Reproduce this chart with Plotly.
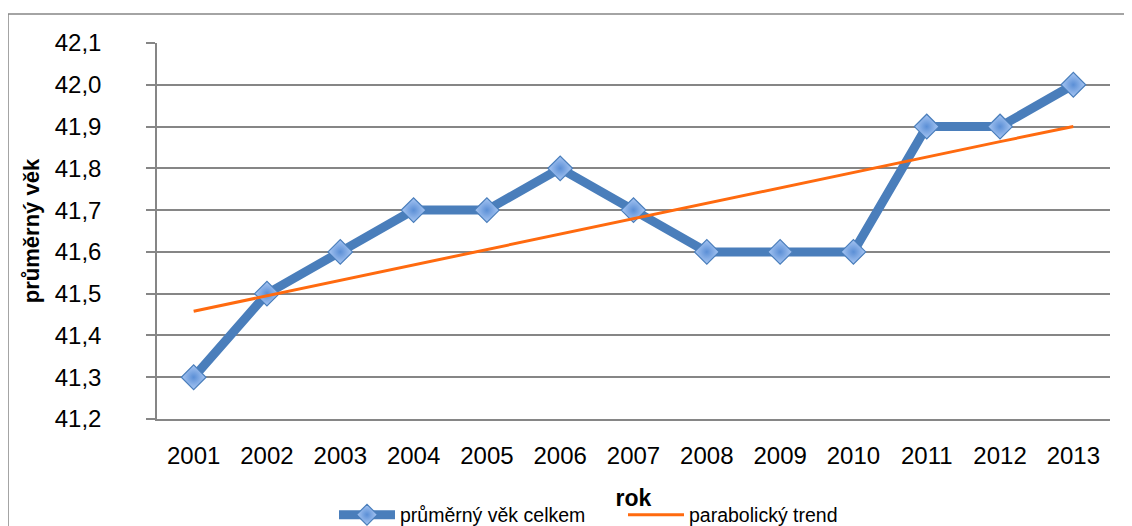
import plotly.graph_objects as go

years = ["2001", "2002", "2003", "2004", "2005", "2006", "2007",
         "2008", "2009", "2010", "2011", "2012", "2013"]
avg_age = [41.3, 41.5, 41.6, 41.7, 41.7, 41.8, 41.7, 41.6, 41.6, 41.6, 41.9, 41.9, 42.0]
trend = [41.458, 41.495, 41.532, 41.569, 41.606, 41.643, 41.679,
         41.716, 41.753, 41.790, 41.827, 41.864, 41.900]
y_ticks = [41.2, 41.3, 41.4, 41.5, 41.6, 41.7, 41.8, 41.9, 42.0, 42.1]

FONT = "Liberation Sans"
OFF = 8  # page body margin

fig = go.Figure()
fig.add_trace(go.Scatter(
    x=years, y=avg_age, mode="lines+markers", name="průměrný věk celkem",
    line=dict(color="#4a7ebb", width=9),
    marker=dict(symbol="diamond", size=19, color="#a9c7f3",
                gradient=dict(type="radial", color="#5b8fd6"),
                line=dict(color="#4a7ebb", width=1.2)),
))
fig.add_trace(go.Scatter(
    x=years, y=trend, mode="lines", name="parabolický trend",
    line=dict(color="#ff6a0f", width=3),
))

W, H = 1132 - OFF, 526 - OFF
L, T = 157 - OFF, 43 - OFF
R = W - (1110 - OFF)
B = H - (419 - OFF)
pw, ph = W - L - R, H - T - B

def px_x(x):
    return (x - OFF - L) / pw

def px_y(y):
    return (H - B - (y - OFF)) / ph

fig.update_layout(
    width=W, height=H,
    margin=dict(l=L, r=R, t=T, b=B, autoexpand=False),
    paper_bgcolor="white", plot_bgcolor="white",
    separators=", ",
    font=dict(family=FONT, size=22, color="#000000"),
    showlegend=True,
    legend=dict(orientation="h", x=px_x(334), xanchor="left", y=px_y(515), yanchor="middle",
                font=dict(size=19.5, family=FONT), itemwidth=56, tracegroupgap=0,
                entrywidth=218, entrywidthmode="pixels",
                bgcolor="rgba(0,0,0,0)"),
    xaxis=dict(
        type="category", showgrid=False, showline=True, linecolor="#868686", linewidth=1.5,
        ticks="", tickfont=dict(size=24, family=FONT), ticklabelstandoff=14,
        automargin=False,
        title=dict(text="<b>rok</b>", font=dict(size=23, family=FONT), standoff=22),
        range=[-0.5, 12.5],
    ),
    yaxis=dict(
        range=[41.2, 42.1], tickvals=y_ticks, tickformat=".1f",
        showgrid=True, gridcolor="#868686", gridwidth=1.5,
        showline=True, linecolor="#868686", linewidth=1.5,
        ticks="outside", ticklen=9, tickcolor="#868686", tickwidth=1.5,
        tickfont=dict(size=24, family=FONT), ticklabelstandoff=40,
        zeroline=False, automargin=False,
        title=dict(text="<b>průměrný věk</b>", font=dict(size=22, family=FONT), standoff=9),
    ),
    shapes=[dict(type="rect", xref="paper", yref="paper",
                 x0=px_x(8), x1=px_x(1145), y0=px_y(540), y1=px_y(14),
                 line=dict(color="#868686", width=1.5), fillcolor="rgba(0,0,0,0)",
                 layer="below")],
)

fig.write_html("out.html")
